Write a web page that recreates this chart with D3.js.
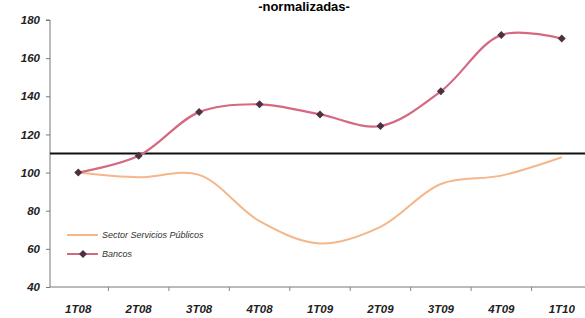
<!DOCTYPE html>
<meta charset="utf-8">
<style>
body { margin: 0; background: #fff; }
.tick text { font-family: "Liberation Sans", Arial, sans-serif; font-style: italic; font-weight: bold; fill: #222; }
.axis path, .axis line { stroke: #777; }
</style>
<script src="https://cdn.jsdelivr.net/npm/d3@7"></script>
<body>
<script>
const categories = ['1T08', '2T08', '3T08', '4T08', '1T09', '2T09', '3T09', '4T09', '1T10'];
const bancos = [100, 108.8, 131.7, 135.8, 130.5, 124.4, 142.6, 172.2, 170.3];
const servicios = [100, 97.5, 98.8, 74.5, 62.8, 71.5, 94, 98.4, 108];
const yTicks = [40, 60, 80, 100, 120, 140, 160, 180];
const refLevel = 110;

const width = 585, height = 318;

const svg = d3.select('body')
  .append('svg')
    .attr('width', width)
    .attr('height', height);

const x = d3.scaleBand()
  .domain(categories)
  .range([48, 592]);

const y = d3.scaleLinear()
  .domain([40, 180])
  .range([287, 20]);

// title (the reference crops its top)
svg.append('text')
  .attr('x', 304)
  .attr('y', 11)
  .attr('text-anchor', 'middle')
  .style('font-family', '"Liberation Sans", Arial, sans-serif')
  .style('font-weight', 'bold')
  .style('font-size', '13px')
  .text('-normalizadas-');

svg.append('g')
    .attr('class', 'axis')
    .attr('transform', `translate(50,0)`)
  .call(d3.axisLeft(y).tickValues(yTicks).tickSize(4).tickPadding(6))
  .call(g => g.select('.domain').attr('d', `M-4,${y(180)}H0V${y(40)}`))
  .selectAll('text')
    .style('font-size', '11.5px');

svg.append('g')
    .attr('class', 'axis')
    .attr('transform', `translate(0,${y(40)})`)
  .call(d3.axisBottom(x).tickSize(0).tickPadding(18))
  .call(g => g.select('.domain').attr('stroke', '#999').attr('d', `M50,0H585`))
  .selectAll('text')
    .style('font-size', '11.5px');

// tick marks between categories
svg.append('g')
  .selectAll('line')
  .data(categories.slice(1))
  .join('line')
    .attr('x1', d => x(d))
    .attr('x2', d => x(d))
    .attr('y1', y(40))
    .attr('y2', y(40) + 4)
    .attr('stroke', '#888');

// reference line
svg.append('line')
  .attr('x1', 50)
  .attr('x2', 585)
  .attr('y1', y(refLevel))
  .attr('y2', y(refLevel))
  .attr('stroke', '#111')
  .attr('stroke-width', 2);

const line = d3.line()
  .x((d, i) => x(categories[i]) + x.bandwidth() / 2)
  .y(d => y(d))
  .curve(d3.curveCatmullRom.alpha(0.5));

svg.append('path')
  .datum(servicios)
  .attr('d', line)
  .attr('fill', 'none')
  .attr('stroke', '#f4b68a')
  .attr('stroke-width', 2);

svg.append('path')
  .datum(bancos)
  .attr('d', line)
  .attr('fill', 'none')
  .attr('stroke', '#d46a82')
  .attr('stroke-width', 2.2);

// compact diamonds: squares turned 45 degrees
const marker = d3.symbol().type(d3.symbolSquare).size(32);

svg.append('g')
  .selectAll('path')
  .data(bancos)
  .join('path')
    .attr('d', marker)
    .attr('transform', (d, i) => `translate(${x(categories[i]) + x.bandwidth() / 2},${y(d)}) rotate(45)`)
    .attr('fill', '#4a3242');

// legend
const legend = svg.append('g')
  .style('font-family', '"Liberation Sans", Arial, sans-serif')
  .style('font-style', 'italic')
  .style('font-size', '9px')
  .attr('fill', '#333');

legend.append('line')
  .attr('x1', 67).attr('x2', 98).attr('y1', 235).attr('y2', 235)
  .attr('stroke', '#f4b68a').attr('stroke-width', 2);
legend.append('text').attr('x', 102).attr('y', 238).text('Sector Servicios Públicos');

legend.append('line')
  .attr('x1', 67).attr('x2', 98).attr('y1', 254).attr('y2', 254)
  .attr('stroke', '#d46a82').attr('stroke-width', 2);
legend.append('path')
  .attr('d', marker)
  .attr('transform', 'translate(83,254) rotate(45)')
  .attr('fill', '#4a3242');
legend.append('text').attr('x', 102).attr('y', 257).text('Bancos');
</script>
</body>
</html>
